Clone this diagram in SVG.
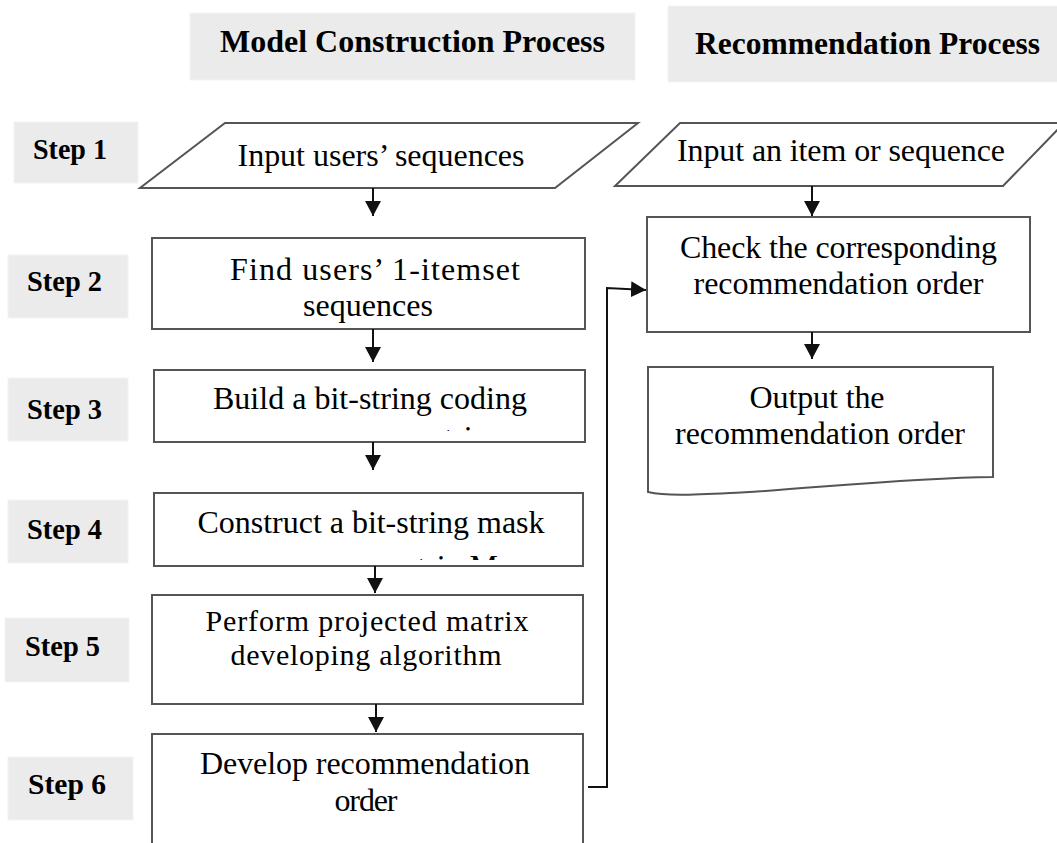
<svg xmlns="http://www.w3.org/2000/svg" width="1057" height="843" viewBox="0 0 1057 843">
<style>
.hdr{fill:#ebebeb;stroke:#f3f3f3;stroke-width:1}
.ht{font-weight:bold;font-size:32px;fill:#000}
.st{font-weight:bold;font-size:29px;fill:#000}
.box{fill:#fff;stroke:#555;stroke-width:2}
.t{font-size:32px;fill:#000;text-anchor:middle}
.c{fill:none;stroke:#111;stroke-width:2}
</style>
<defs>
<marker id="ah" markerUnits="userSpaceOnUse" markerWidth="16" markerHeight="16" refX="15" refY="8" orient="auto" viewBox="0 0 16 16">
<path d="M0,0 L15,8 L0,16 z" fill="#111"/>
</marker>
<clipPath id="clip3"><rect x="150" y="400" width="440" height="31"/></clipPath>
<clipPath id="clip4"><rect x="150" y="530" width="440" height="30"/></clipPath>
</defs>
<rect width="1057" height="843" fill="#fff"/>
<g font-family="Liberation Serif, Times New Roman, serif">
<g id="header-model">
<rect class="hdr" x="190" y="13" width="445" height="67"/>
<text class="ht" x="220" y="52" textLength="385" lengthAdjust="spacingAndGlyphs">Model Construction Process</text>
</g>
<g id="header-recommendation">
<rect class="hdr" x="668" y="6" width="395" height="76"/>
<text class="ht" x="695" y="54" textLength="345" lengthAdjust="spacingAndGlyphs">Recommendation Process</text>
</g>

<g id="step1"><rect class="hdr" x="14" y="122" width="124" height="61"/><text class="st" x="33" y="159" textLength="74" lengthAdjust="spacingAndGlyphs">Step 1</text></g>
<g id="step2"><rect class="hdr" x="8" y="255" width="120" height="63"/><text class="st" x="27" y="291" textLength="75" lengthAdjust="spacingAndGlyphs">Step 2</text></g>
<g id="step3"><rect class="hdr" x="8" y="378" width="120" height="63"/><text class="st" x="27" y="419" textLength="75" lengthAdjust="spacingAndGlyphs">Step 3</text></g>
<g id="step4"><rect class="hdr" x="8" y="500" width="120" height="63"/><text class="st" x="27" y="539" textLength="75" lengthAdjust="spacingAndGlyphs">Step 4</text></g>
<g id="step5"><rect class="hdr" x="5" y="618" width="124" height="64"/><text class="st" x="25" y="656" textLength="75" lengthAdjust="spacingAndGlyphs">Step 5</text></g>
<g id="step6"><rect class="hdr" x="8" y="757" width="125" height="63"/><text class="st" x="28" y="794" textLength="78" lengthAdjust="spacingAndGlyphs">Step 6</text></g>

<g id="input-users">
<polygon class="box" points="225,123 638,123 555,188 140,188"/>
<text class="t" x="381" y="166" textLength="287">Input users’ sequences</text>
</g>
<g id="find-itemset">
<rect class="box" x="152" y="238" width="433" height="91"/>
<text class="t" x="375" y="280" textLength="290">Find users’ 1-itemset</text>
<text class="t" x="368" y="316" textLength="130">sequences</text>
</g>
<g id="bit-string-coding">
<rect class="box" x="154" y="370" width="431" height="72"/>
<text class="t" x="370" y="409" textLength="314">Build a bit-string coding</text>
<text class="t" x="405" y="448" clip-path="url(#clip3)" style="text-anchor:start">matrix</text>
</g>
<g id="bit-string-mask">
<rect class="box" x="154" y="493" width="429" height="73"/>
<text class="t" x="371" y="533" textLength="347">Construct a bit-string mask</text>
<text class="t" x="378" y="577" clip-path="url(#clip4)" style="text-anchor:start">matrix M</text>
</g>
<g id="projected-matrix">
<rect class="box" x="152" y="595" width="431" height="109"/>
<text class="t" x="367" y="631" textLength="323" style="font-size:30px">Perform projected matrix</text>
<text class="t" x="366" y="665" textLength="271" style="font-size:30px">developing algorithm</text>
</g>
<g id="develop-order">
<rect class="box" x="152" y="734" width="431" height="130"/>
<text class="t" x="365" y="774" textLength="330">Develop recommendation</text>
<text class="t" x="366" y="811" textLength="63">order</text>
</g>

<g id="input-item">
<polygon class="box" points="680,123 1064,123 1003,186 615,186"/>
<text class="t" x="841" y="161" textLength="328">Input an item or sequence</text>
</g>
<g id="check-order">
<rect class="box" x="647" y="217" width="383" height="115"/>
<text class="t" x="838.5" y="258" textLength="317">Check the corresponding</text>
<text class="t" x="838.5" y="294" textLength="290">recommendation order</text>
</g>
<g id="output-order">
<path class="box" d="M648,367 H993 V477 C 900,478 800,490 730,493 C 690,495 665,496 648,492 Z"/>
<text class="t" x="817" y="408" textLength="135">Output the</text>
<text class="t" x="820" y="444" textLength="290">recommendation order</text>
</g>
</g>
<g id="connectors">
<path class="c" d="M373,188 V216" marker-end="url(#ah)"/>
<path class="c" d="M373,329 V362" marker-end="url(#ah)"/>
<path class="c" d="M373,442 V470" marker-end="url(#ah)"/>
<path class="c" d="M375,566 V593" marker-end="url(#ah)"/>
<path class="c" d="M376,704 V732" marker-end="url(#ah)"/>
<path class="c" d="M812,186 V216" marker-end="url(#ah)"/>
<path class="c" d="M812,332 V359" marker-end="url(#ah)"/>
<path class="c" d="M588,787 H607 V288 L646,290" marker-end="url(#ah)"/>
</g>
</svg>
